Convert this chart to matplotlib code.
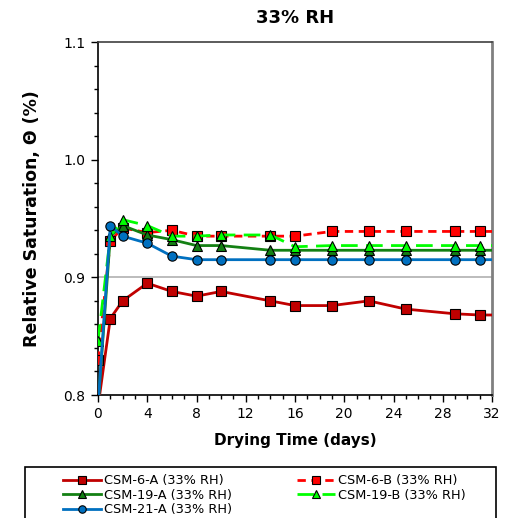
import matplotlib
matplotlib.use("Agg")
import matplotlib.pyplot as plt
from matplotlib.ticker import MultipleLocator, FormatStrFormatter
from matplotlib.patches import Rectangle

plt.rcParams['font.family'] = ['DejaVu Sans']

days = [0, 1, 2, 4, 6, 8, 10, 14, 16, 19, 22, 25, 29, 31, 34]
csm6a = [0.790, 0.865, 0.880, 0.895, 0.888, 0.884, 0.888, 0.880, 0.876, 0.876, 0.880, 0.873, 0.869, 0.868, 0.868]
csm6b = [0.830, 0.931, 0.942, 0.938, 0.940, 0.935, 0.935, 0.935, 0.935, 0.939, 0.939, 0.939, 0.939, 0.939, 0.939]
csm19a = [0.790, 0.935, 0.944, 0.936, 0.932, 0.927, 0.927, 0.923, 0.923, 0.923, 0.923, 0.923, 0.923, 0.923, 0.923]
csm19b = [0.846, 0.935, 0.949, 0.944, 0.935, 0.935, 0.936, 0.936, 0.926, 0.927, 0.927, 0.927, 0.927, 0.927, 0.927]
csm21a = [0.790, 0.944, 0.935, 0.929, 0.918, 0.915, 0.915, 0.915, 0.915, 0.915, 0.915, 0.915, 0.915, 0.915, 0.915]

labels = ["CSM-6-A (33% RH)", "CSM-6-B (33% RH)", "CSM-19-A (33% RH)",
          "CSM-19-B (33% RH)", "CSM-21-A (33% RH)"]

fig = plt.figure(figsize=(5.08, 5.18), dpi=100)
ax = fig.add_axes([98/508, 1-395/518, 394/508, 353/518])

ax.axhline(0.9, color='#b0b0b0', lw=1.2, zorder=0)

ms = 6.7
styles = [
    dict(color='#C00000', ls='-', marker='s', mfc='#C00000', zorder=3),
    dict(color='#FF0000', ls=(0, (3, 2)), marker='s', mfc='#FF0000', zorder=4),
    dict(color='#138013', ls='-', marker='^', mfc='#138013', zorder=5),
    dict(color='#00FF00', ls=(0, (6, 3)), marker='^', mfc='#00FF00', zorder=6),
    dict(color='#0070C0', ls='-', marker='o', mfc='#0070C0', zorder=7),
]
series = [csm6a, csm6b, csm19a, csm19b, csm21a]
handles = []
for s, st, lab in zip(series, styles, labels):
    h, = ax.plot(days, s, lw=2, ms=ms, mec='black', mew=0.8, label=lab, **st)
    handles.append(h)

ax.set_xlim(0, 32)
ax.set_ylim(0.8, 1.1)
ax.xaxis.set_major_locator(MultipleLocator(4))
ax.xaxis.set_minor_locator(MultipleLocator(1))
ax.yaxis.set_major_locator(MultipleLocator(0.1))
ax.yaxis.set_minor_locator(MultipleLocator(0.02))
ax.yaxis.set_major_formatter(FormatStrFormatter('%.1f'))
ax.tick_params(axis='both', which='major', direction='out', length=5, width=1, labelsize=10, pad=4)
ax.tick_params(axis='both', which='minor', direction='out', length=3, width=1)

for side in ['left', 'bottom']:
    ax.spines[side].set_color('black')
    ax.spines[side].set_linewidth(1.2)
ax.spines['top'].set_color('#404040')
ax.spines['top'].set_linewidth(1.2)
ax.spines['right'].set_color('#808080')
ax.spines['right'].set_linewidth(2)

ax.set_title("33% RH", fontsize=13, fontweight='bold', pad=14)
ax.set_xlabel("Drying Time (days)", fontsize=11, fontweight='bold', labelpad=8)
ax.set_ylabel("Relative Saturation, Θ (%)", fontsize=12.5, fontweight='bold', labelpad=16)

# legend box
fig.patches.append(Rectangle((25/508, -0.1), 471/508, 0.1 + 1 - 467/518,
                             transform=fig.transFigure, fill=False,
                             edgecolor='black', lw=1.2))
order = [0, 2, 4, 1, 3]
fig.legend([handles[i] for i in order], [labels[i] for i in order],
           loc='upper left', bbox_to_anchor=(54/508, 1-465/518), ncol=2,
           frameon=False, fontsize=9.3, handlelength=2.9, handletextpad=0.3,
           columnspacing=5.0, labelspacing=0.12, borderpad=0.2,
           markerscale=0.8)

fig.savefig("out.png", dpi=100)
